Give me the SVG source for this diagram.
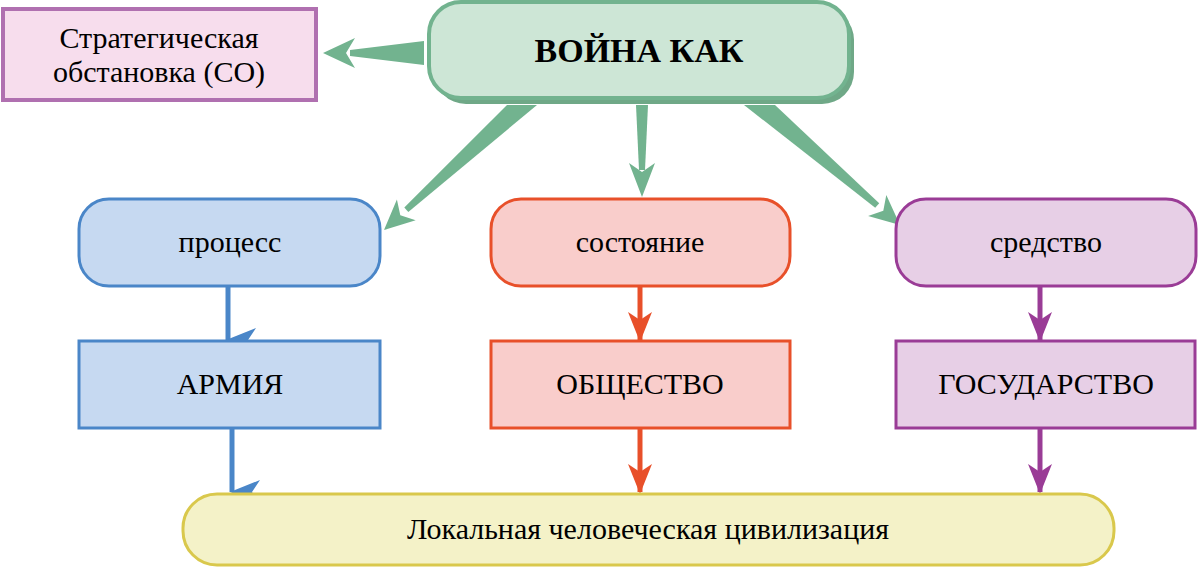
<svg xmlns="http://www.w3.org/2000/svg" width="1200" height="569" viewBox="0 0 1200 569">
<style>
text{font-family:"Liberation Serif","Times New Roman",serif;fill:#000;text-anchor:middle}
.t{font-size:30px}
.g{fill:#72b38f}
</style>
<defs>
<marker id="hb" markerUnits="userSpaceOnUse" markerWidth="24" markerHeight="30" refX="12" refY="28" orient="auto-start-reverse" viewBox="0 0 24 30"><path d="M0,0 L12,8 L24,0 L12,30 Z" fill="#4a86c8"/></marker>
<marker id="hr" markerUnits="userSpaceOnUse" markerWidth="24" markerHeight="30" refX="12" refY="28" viewBox="0 0 24 30"><path d="M0,0 L12,8 L24,0 L12,30 Z" fill="#e8502a"/></marker>
<marker id="hp" markerUnits="userSpaceOnUse" markerWidth="24" markerHeight="30" refX="12" refY="28" viewBox="0 0 24 30"><path d="M0,0 L12,8 L24,0 L12,30 Z" fill="#9a3c96"/></marker>
</defs>
<g id="connectors">
<polygon class="g" points="424,41 424,65 350,56 350,50"/>
<polygon class="g" points="323,53 355,38 346,53 355,68"/>
<polygon class="g" points="507,105 537,105 408.3,212 404.3,207.6"/>
<polygon class="g" points="384,230 415.7,220.2 400.3,215.2 396.9,199.4"/>
<polygon class="g" points="636,105 648,105 645,170 639,170"/>
<polygon class="g" points="642,197 629,163 642,172 655,163"/>
<polygon class="g" points="744,105 775,105 879.2,203.2 875.2,207.8"/>
<polygon class="g" points="900,225 868.1,216.1 883.3,210.7 886.3,194.9"/>
<g stroke-width="5" fill="none">
<line x1="228" y1="286" x2="228" y2="340" stroke="#4a86c8" marker-end="url(#hb)"/>
<line x1="232" y1="428" x2="232" y2="492" stroke="#4a86c8" marker-end="url(#hb)"/>
<line x1="640" y1="286" x2="640" y2="340" stroke="#e8502a" marker-end="url(#hr)"/>
<line x1="640" y1="428" x2="640" y2="492" stroke="#e8502a" marker-end="url(#hr)"/>
<line x1="1040" y1="286" x2="1040" y2="340" stroke="#9a3c96" marker-end="url(#hp)"/>
<line x1="1040" y1="428" x2="1040" y2="492" stroke="#9a3c96" marker-end="url(#hp)"/>
</g>
</g>
<g id="war">
<rect x="434" y="8" width="420" height="96" rx="32" fill="#6fa887"/>
<rect x="429" y="2" width="420" height="96" rx="32" fill="#cde6d6" stroke="#72b38f" stroke-width="4"/>
<text x="639" y="62" font-size="34" font-weight="bold">ВОЙНА КАК</text>
</g>
<g id="so">
<rect x="3" y="9" width="313" height="91" fill="#f7dded" stroke="#b070b0" stroke-width="4"/>
<text class="t" x="159" y="48">Стратегическая</text>
<text class="t" x="159" y="82">обстановка (СО)</text>
</g>
<g id="process">
<rect x="79" y="199" width="301" height="87" rx="30" fill="#c6d9f1" stroke="#4a86c8" stroke-width="3"/>
<text class="t" x="230" y="252">процесс</text>
</g>
<g id="state">
<rect x="491" y="199" width="299" height="87" rx="30" fill="#f9cdcb" stroke="#e8502a" stroke-width="3"/>
<text class="t" x="640" y="252">состояние</text>
</g>
<g id="means">
<rect x="896" y="199" width="300" height="87" rx="30" fill="#e7cfe6" stroke="#9a3c96" stroke-width="3"/>
<text class="t" x="1046" y="252">средство</text>
</g>
<g id="army">
<rect x="79" y="341" width="301" height="87" fill="#c6d9f1" stroke="#4a86c8" stroke-width="3"/>
<text class="t" x="230" y="394">АРМИЯ</text>
</g>
<g id="society">
<rect x="491" y="341" width="299" height="87" fill="#f9cdcb" stroke="#e8502a" stroke-width="3"/>
<text class="t" x="640" y="394">ОБЩЕСТВО</text>
</g>
<g id="state2">
<rect x="896" y="341" width="299" height="87" fill="#e7cfe6" stroke="#9a3c96" stroke-width="3"/>
<text class="t" x="1046" y="394">ГОСУДАРСТВО</text>
</g>
<g id="civ">
<rect x="183" y="494" width="931" height="71" rx="34" fill="#f4f2c8" stroke="#d9c84c" stroke-width="3"/>
<text class="t" x="648" y="539">Локальная человеческая цивилизация</text>
</g>
</svg>
